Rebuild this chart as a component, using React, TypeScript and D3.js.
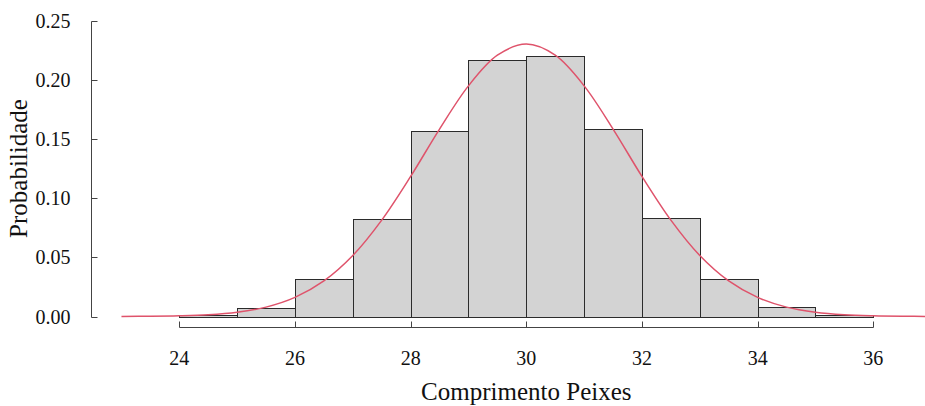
import { useEffect, useRef } from "react";
import * as d3 from "d3";

// histogram of fish lengths with a fitted normal density on top
const binStarts = [24, 25, 26, 27, 28, 29, 30, 31, 32, 33, 34, 35];
const binDensity = [0.0012, 0.007, 0.032, 0.082, 0.157, 0.217, 0.220, 0.1585, 0.083, 0.032, 0.0079, 0.0012];

const curveX = [23, 23.5, 24, 24.5, 25, 25.5, 26, 26.5, 27, 27.5, 28, 28.5, 29, 29.5, 30,
  30.5, 31, 31.5, 32, 32.5, 33, 33.5, 34, 34.5, 35, 35.5, 36, 36.5, 37];
const curveY = [0.00007, 0.0002, 0.0006, 0.0015, 0.0036, 0.0079, 0.0161, 0.03, 0.0515, 0.0814, 0.1183, 0.1583, 0.1948, 0.2207, 0.2301,
  0.2207, 0.1948, 0.1583, 0.1183, 0.0814, 0.0515, 0.03, 0.0161, 0.0079, 0.0036, 0.0015, 0.0006, 0.0002, 0.00007];

const xTicks = [24, 26, 28, 30, 32, 34, 36];
const yTicks = [0, 0.05, 0.1, 0.15, 0.2, 0.25];

const W = 925;
const H = 406;
const FONT = "'Liberation Serif', 'Times New Roman', serif";

export default function App() {
  const ref = useRef<SVGSVGElement>(null);

  useEffect(() => {
    const svg = d3.select(ref.current);
    svg.selectAll("*").remove();

    const x = d3.scaleLinear().domain([24, 36]).range([179.3, 873.3]);
    const y = d3.scaleLinear().domain([0, 0.25]).range([316.5, 20.5]);

    // bars
    svg.append("g")
      .selectAll("rect")
      .data(binStarts)
      .join("rect")
      .attr("x", (d) => Math.round(x(d)) + 0.5)
      .attr("y", (_, i) => Math.round(y(binDensity[i])) + 0.5)
      .attr("width", (d) => Math.round(x(d + 1)) - Math.round(x(d)))
      .attr("height", (_, i) => Math.round(y(0)) - Math.round(y(binDensity[i])))
      .attr("fill", "#d3d3d3")
      .attr("stroke", "#2b2b2b")
      .attr("stroke-width", 1);

    // density curve
    const line = d3.line<number>()
      .x((d) => x(d))
      .y((_, i) => y(curveY[i]))
      .curve(d3.curveCatmullRom);
    svg.append("path")
      .datum(curveX)
      .attr("fill", "none")
      .attr("stroke", "#df536b")
      .attr("stroke-width", 1.5)
      .attr("d", line);

    // y axis (ticks point inward)
    const axisCol = "#444";
    const yAx = svg.append("g").attr("transform", "translate(91.5,0)");
    yAx.append("line")
      .attr("y1", Math.round(y(0.25)) + 0.5).attr("y2", Math.round(y(0)) + 0.5)
      .attr("stroke", axisCol);
    yAx.selectAll("line.tick").data(yTicks).join("line")
      .attr("class", "tick")
      .attr("x1", 0).attr("x2", 6)
      .attr("y1", (d) => Math.round(y(d)) + 0.5).attr("y2", (d) => Math.round(y(d)) + 0.5)
      .attr("stroke", axisCol);
    yAx.selectAll("text").data(yTicks).join("text")
      .attr("x", -21).attr("y", (d) => y(d))
      .attr("dy", "0.35em")
      .attr("text-anchor", "end")
      .attr("font-family", FONT).attr("font-size", 20).attr("fill", "#111")
      .text((d) => d3.format(".2f")(d));

    // x axis
    const xAx = svg.append("g").attr("transform", "translate(0,327.5)");
    xAx.append("line")
      .attr("x1", Math.round(x(24)) + 0.5).attr("x2", Math.round(x(36)) + 0.5)
      .attr("stroke", axisCol);
    xAx.selectAll("line.tick").data(xTicks).join("line")
      .attr("class", "tick")
      .attr("x1", (d) => Math.round(x(d)) + 0.5).attr("x2", (d) => Math.round(x(d)) + 0.5)
      .attr("y1", 0).attr("y2", -6)
      .attr("stroke", axisCol);
    xAx.selectAll("text").data(xTicks).join("text")
      .attr("x", (d) => x(d)).attr("y", 37)
      .attr("text-anchor", "middle")
      .attr("font-family", FONT).attr("font-size", 20).attr("fill", "#111")
      .text((d) => d);

    // axis titles
    svg.append("text")
      .attr("x", x(30)).attr("y", 400)
      .attr("text-anchor", "middle")
      .attr("font-family", FONT).attr("font-size", 25).attr("fill", "#111")
      .text("Comprimento Peixes");
    svg.append("text")
      .attr("transform", `translate(27,${(y(0) + y(0.25)) / 2}) rotate(-90)`)
      .attr("text-anchor", "middle")
      .attr("font-family", FONT).attr("font-size", 25).attr("fill", "#111")
      .text("Probabilidade");
  }, []);

  return (
    <svg
      ref={ref}
      width={W}
      height={H}
      style={{ position: "absolute", left: 0, top: 0, background: "#fff" }}
    />
  );
}
